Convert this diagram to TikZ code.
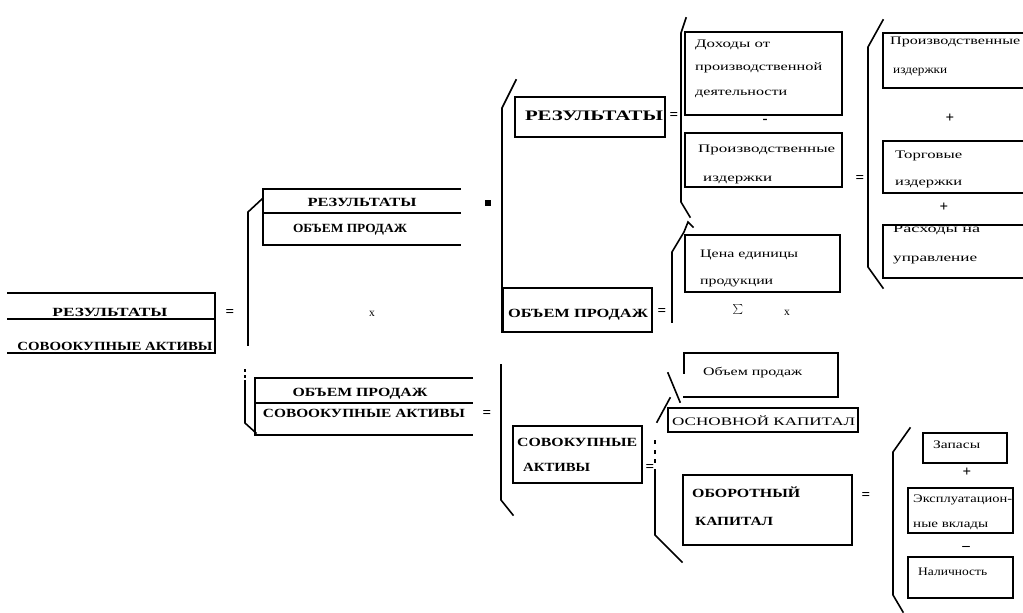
\documentclass[tikz,border=0pt]{standalone}
\usepackage{fontspec}
\setmainfont{Liberation Serif}
\usepackage{graphicx}
\newcommand\fw[2]{\resizebox{#1pt}{\height}{#2}}
\tikzset{
  ln/.style={line width=1.6pt, black, line cap=rect},
  cb/.style={font=\bfseries\fontsize{12.5}{13}\selectfont, inner sep=0pt, anchor=base},
  cbl/.style={font=\bfseries\fontsize{12.5}{13}\selectfont, inner sep=0pt, anchor=base west},
  big/.style={font=\bfseries\fontsize{14.5}{15}\selectfont, inner sep=0pt, anchor=base},
  lc/.style={font=\fontsize{11.5}{12}\selectfont, inner sep=0pt, anchor=base west},
  op/.style={font=\bfseries\fontsize{15}{15}\selectfont, inner sep=0pt}
}
\begin{document}
\begin{tikzpicture}[x=1pt,y=-1pt]
\useasboundingbox (0,0) rectangle (1023,613);

% left fraction
\draw[ln] (8,293)--(215,293)--(215,353);
\draw[ln] (8,319)--(215,319);
\draw[ln] (8,353)--(215,353);
\node[cb] (l1) at (110,316) {\fw{115}{РЕЗУЛЬТАТЫ}};
\node[cb] (l2) at (115,350) {\fw{195}{СОВООКУПНЫЕ АКТИВЫ}};
\node[op] (eq1) at (230,313) {=};

% brace 1
\draw[ln] (262,199)--(248,212)--(248,345);
\draw[ln] (245,381)--(245,423)--(256,433);
\fill (244,369) rectangle (246,372);
\fill (244,375) rectangle (246,378);

% fraction 2
\draw[ln] (460,189)--(263,189)--(263,245)--(460,245);
\draw[ln] (263,213)--(460,213);
\node[cb] (f2a) at (362,206) {\fw{109}{РЕЗУЛЬТАТЫ}};
\node[cb] (f2b) at (350,232) {\fw{114}{ОБЪЕМ ПРОДАЖ}};
\node[fill=black, inner sep=0pt, minimum size=6pt] (sq) at (488,203) {};
\node[lc, anchor=center] (mul1) at (372,314) {x};

% fraction 3
\draw[ln] (472,378)--(255,378)--(255,435)--(472,435);
\draw[ln] (255,403)--(472,403);
\node[cb] (f3a) at (360,396) {\fw{135}{ОБЪЕМ ПРОДАЖ}};
\node[cb] (f3b) at (364,417) {\fw{202}{СОВООКУПНЫЕ АКТИВЫ}};
\node[op] (eq3) at (487,414) {=};

% big middle bracket
\draw[ln] (516,80)--(502,108)--(502,332);
\draw[ln] (501,365)--(501,500)--(513,515);

% РЕЗУЛЬТАТЫ box
\draw[ln] (515,97) rectangle (665,137);
\node[big] (rz) at (594,120) {\fw{138}{РЕЗУЛЬТАТЫ}};
\node[op] (eq4) at (674,116) {=};

% ОБЪЕМ ПРОДАЖ box
\draw[ln] (503,288) rectangle (652,332);
\node[cb] (op1) at (578,317) {\fw{140}{ОБЪЕМ ПРОДАЖ}};
\node[op] (eq5) at (662,312) {=};

% bracket for results
\draw[ln] (686,18)--(681,33)--(681,202)--(690,217);
\draw[ln] (685,32) rectangle (842,115);
\node[lc] (d1) at (695,47) {\fw{75}{Доходы от}};
\node[lc] (d2) at (695,70) {\fw{127}{производственной}};
\node[lc] (d3) at (695,95) {\fw{92}{деятельности}};
\node[op] (mn1) at (765,121) {-};
\draw[ln] (685,133) rectangle (842,187);
\node[lc] (p1) at (698,152) {\fw{137}{Производственные}};
\node[lc] (p2) at (703,181) {\fw{69}{издержки}};
\node[op] (eq6) at (860,179) {=};

% right bracket
\draw[ln] (883,20)--(868,47)--(868,267)--(883,288);
\draw[ln] (1023,33)--(883,33)--(883,88)--(1023,88);
\draw[ln] (1023,141)--(883,141)--(883,193)--(1023,193);
\draw[ln] (1023,225)--(883,225)--(883,278)--(1023,278);
\node[lc] (r1) at (890,45) {\fw{130}{Производственные}};
\node[lc] (r2) at (893,73) {\fw{54}{издержки}};
\node[op] (pl1) at (950,118) {+};
\node[lc] (r3) at (895,158) {\fw{67}{Торговые}};
\node[lc] (r4) at (895,185) {\fw{67}{издержки}};
\node[op] (pl2) at (944,207) {+};
\node[lc] (r5) at (893,232) {\fw{87}{Расходы на}};
\node[lc] (r6) at (893,261) {\fw{84}{управление}};

% sales bracket
\draw[ln] (672,322)--(672,252)--(684,232)--(688,222)--(693,227);
\draw[ln] (685,235) rectangle (840,292);
\node[lc] (c1) at (700,257) {\fw{98}{Цена единицы}};
\node[lc] (c2) at (700,284) {\fw{73}{продукции}};
\node[font=\fontsize{16}{16}\selectfont, inner sep=0pt] (sum) at (738,309) {$\sum$};
\node[lc, anchor=center] (mul2) at (787,313) {x};

% total assets
\draw[ln] (513,426) rectangle (642,483);
\node[cbl] (a1) at (517,446) {\fw{120}{СОВОКУПНЫЕ}};
\node[cbl] (a2) at (523,471) {\fw{67}{АКТИВЫ}};
\node[op] (eq7) at (650,468) {=};
\draw[ln] (668,373)--(680,402);
\draw[ln] (657,422)--(670,398);
\fill (654,440) rectangle (656,444);
\fill (654,450) rectangle (656,454);
\fill (654,459) rectangle (656,463);
\draw[ln] (655,470)--(655,535)--(682,562);

\draw[ln] (684,373)--(684,353)--(838,353)--(838,397)--(684,397);
\node[lc] (o1) at (703,375) {\fw{99}{Объем продаж}};
\draw[ln] (668,408) rectangle (858,432);
\node[lc] (o2) at (672,425) {\fw{183}{ОСНОВНОЙ КАПИТАЛ}};

\draw[ln] (683,475) rectangle (852,545);
\node[cbl] (ob1) at (692,497) {\fw{108}{ОБОРОТНЫЙ}};
\node[cbl] (ob2) at (695,525) {\fw{78}{КАПИТАЛ}};
\node[op] (eq8) at (866,496) {=};

\draw[ln] (910,428)--(893,452)--(893,595)--(903,612);
\draw[ln] (923,433) rectangle (1007,463);
\node[lc] (z1) at (933,448) {\fw{47}{Запасы}};
\node[op] (pl3) at (967,472) {+};
\draw[ln] (908,488) rectangle (1013,533);
\node[lc] (e1) at (913,502) {\fw{99}{Эксплуатацион-}};
\node[lc] (e2) at (913,527) {\fw{75}{ные вклады}};
\node[op] (mn2) at (966,548) {--};
\draw[ln] (908,557) rectangle (1013,598);
\node[lc] (n1) at (918,575) {\fw{69}{Наличность}};
\end{tikzpicture}
\end{document}
